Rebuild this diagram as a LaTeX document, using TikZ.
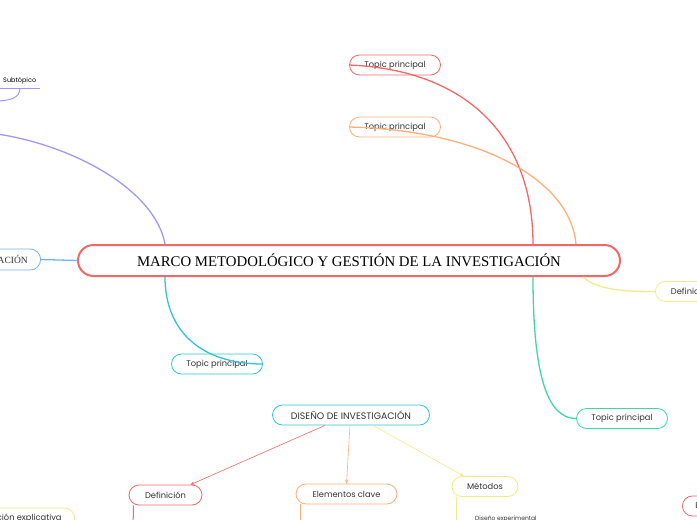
\documentclass[tikz,border=0pt]{standalone}
\usepackage{fontspec}
\setmainfont{Poppins}
\newfontfamily\titlefont{Liberation Serif}
\usetikzlibrary{shapes.misc,arrows.meta}

\definecolor{mred}{HTML}{F26868}
\definecolor{morange}{HTML}{FFAE7A}
\definecolor{myellow}{HTML}{F5EA85}
\definecolor{mgreen}{HTML}{3FD8A0}
\definecolor{mcyan}{HTML}{2EC6D3}
\definecolor{mblue}{HTML}{72B2F0}
\definecolor{mpurple}{HTML}{A197FA}

\begin{document}
\begin{tikzpicture}[x=1pt, y=-1pt,
  topic/.style={rounded rectangle, draw, fill=white, line width=0.8pt,
    minimum height=20pt, inner sep=0pt, text=black!80,
    font=\fontsize{8.3}{10}\selectfont},
  link/.style={line width=1.3pt},
  arr/.style={-{Stealth[length=4pt,width=3.5pt]}, line width=0.6pt}]
  \useasboundingbox (0,0) rectangle (697,520);

  % Central topic
  \node[rounded rectangle, draw=mred, line width=2pt, fill=white,
    minimum width=542pt, minimum height=31pt, inner sep=0pt,
    font=\titlefont\fontsize{14.8}{17}\selectfont] (main) at (349,260.5)
    {MARCO METODOLÓGICO Y GESTIÓN DE LA INVESTIGACIÓN};

  % Main topics
  \node[topic, draw=mred, minimum width=91pt] (t1) at (395,65) {Topic principal};
  \node[topic, draw=morange, minimum width=91pt] (t2) at (395,127) {Topic principal};
  \node[topic, draw=mcyan, minimum width=91pt] (t3) at (217,364) {Topic principal};
  \node[topic, draw=mgreen, minimum width=91pt] (t4) at (622,418.5) {Topic principal};
  \node[topic, draw=myellow, inner xsep=15pt, anchor=west] (def) at (655,291.5) {Definición};
  \node[topic, draw=mblue, minimum height=21pt, inner xsep=12pt, anchor=east,
    font=\titlefont\fontsize{9.5}{11}\selectfont] (inv) at (41,259.5)
    {GESTIÓN DE LA INVESTIGACIÓN};

  % Subtopic on the left edge
  \node[anchor=west, font=\fontsize{6.5}{8}\selectfont, inner sep=0pt] (sub) at (3,81) {Subtópico};
  \coordinate (subL) at (-5,88);
  \coordinate (subR) at (40,88);
  \coordinate (subK) at (20,88);
  \coordinate (subE) at (-5,101);
  \coordinate (pOut) at (-10,133);

  % Connectors
  \draw[link, mred] ([xshift=184pt]main.north) .. controls +(0,-105) and +(120,5) .. (t1.west);
  \draw[link, morange] ([xshift=227pt]main.north) .. controls +(-6,-65) and +(130,3) .. (t2.west);
  \draw[link, mpurple] ([xshift=-184pt]main.north) .. controls +(-10,-55) and +(80,10) .. (pOut);
  \draw[link, mcyan] ([xshift=-184pt]main.south) .. controls +(0,54) and +(-62,0) .. (t3.east);
  \draw[link, mgreen] ([xshift=184pt]main.south) .. controls +(0,104) and +(-27,0) .. (t4.west);
  \draw[link, myellow] ([xshift=234pt]main.south) .. controls +(15,14) and +(-25,0) .. (def.west);
  \draw[link, mblue] (inv.east) -- (main.west);
  \draw[mpurple, line width=1pt] (subL) -- (subR);
  \draw[mpurple, line width=1pt] (subK) .. controls +(0,10) and +(15,0) .. (subE);

  % Second map
  \node[topic, draw=mcyan, minimum width=157pt, font=\fontsize{9.4}{11}\selectfont] (dis) at (351,415) {DISEÑO DE INVESTIGACIÓN};
  \node[topic, draw=mred, minimum width=73pt] (d1) at (165.5,495) {Definición};
  \node[topic, draw=morange, minimum width=101pt] (d2) at (346.5,494) {Elementos clave};
  \node[topic, draw=myellow, minimum width=66pt] (d3) at (485,486.5) {Métodos};

  \draw[arr, mred] ([xshift=-26pt]dis.south) -- ([xshift=25pt]d1.north);
  \draw[arr, morange] ([xshift=-1pt]dis.south) -- (d2.north);
  \draw[arr, myellow] ([xshift=22pt]dis.south) -- ([xshift=-21pt]d3.north);

  % Branches leaving the page
  \coordinate (e1) at (133,530);
  \coordinate (e2) at (300,530);
  \coordinate (e3) at (456,530);
  \draw[mred, line width=1pt] ([xshift=-32pt]d1.south) -- (e1);
  \draw[morange, line width=1pt] ([xshift=-46.5pt]d2.south) -- (e2);
  \draw[myellow, line width=1pt] ([xshift=-29pt]d3.south) -- (e3);
  \node[anchor=west, font=\fontsize{6}{7}\selectfont, inner sep=0pt, text=black!80] (exp) at (475,518.5) {Diseño experimental};

  \node[topic, draw=myellow, inner xsep=12pt, anchor=east] (ex) at (75,518)
    {Investigación explicativa};
  \node[topic, draw=mred, inner xsep=12pt, anchor=west] (rb) at (682,506)
    {Enfoque};
\end{tikzpicture}
\end{document}
